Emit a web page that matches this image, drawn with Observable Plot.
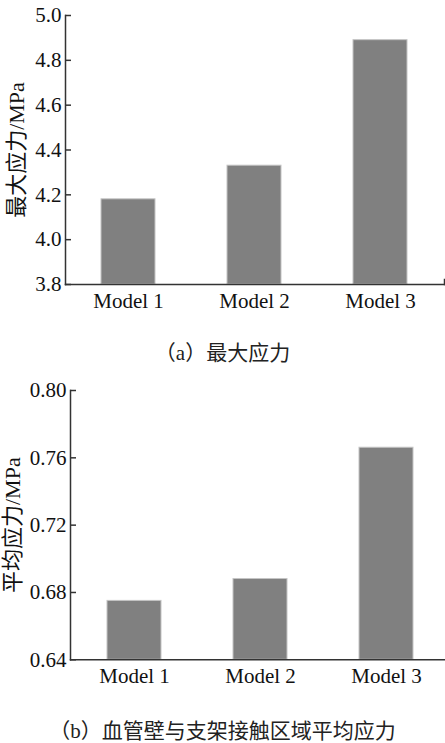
<!DOCTYPE html>
<html>
<head>
<meta charset="utf-8">
<script src="https://cdn.jsdelivr.net/npm/d3@7"></script>
<script src="https://cdn.jsdelivr.net/npm/@observablehq/plot@0.6"></script>
<style>
  html, body { margin: 0; padding: 0; background: #fff; overflow: hidden; }
  .cap { width: 445px; text-align: center; font-family: "Liberation Serif", "Noto Sans CJK SC", serif; font-size: 21px; color: #222; }
  svg { display: block; }
</style>
</head>
<body>
<div id="a"></div>
<div class="cap" style="height:40px; line-height:40px;">（a）最大应力</div>
<div id="b"></div>
<div class="cap" style="height:30px; line-height:30px;">（b）血管壁与支架接触区域平均应力</div>
<script>
const models = ["Model 1", "Model 2", "Model 3"];
const maxStress = [4.18, 4.33, 4.89];
const avgStress = [0.675, 0.688, 0.766];
const yDomainA = [3.8, 5.0];
const yTicksA = [3.8, 4.0, 4.2, 4.4, 4.6, 4.8, 5.0];
const yDomainB = [0.64, 0.80];
const yTicksB = [0.64, 0.68, 0.72, 0.76, 0.80];
const yLabelA = "最大应力/MPa";
const yLabelB = "平均应力/MPa";

const dataA = models.map((m, i) => ({model: m, value: maxStress[i]}));
const dataB = models.map((m, i) => ({model: m, value: avgStress[i]}));

const font = "Liberation Serif, Noto Sans CJK SC, serif";
const axisColor = "#333";
const barFill = "#808080";
const barStroke = "#c4c4c4";

function chart({data, yDomain, yTicks, fmt, label, width, height, mL, mR, mT, mB, xRange, labelDx, rightTick}) {
  const frameH = height - mT - mB;
  const marks = [
    Plot.barY(data, {x: "model", y1: yDomain[0], y2: "value", fill: barFill, stroke: barStroke, strokeWidth: 1}),
    Plot.axisX({tickSize: 0, tickPadding: 8.5, fontSize: 21, fontFamily: font, color: "#111"}),
    Plot.axisY({ticks: yTicks, tickFormat: fmt, tickSize: 0, tickPadding: 4, fontSize: 21, fontFamily: font, fontVariant: "normal", label: null, color: "#111"}),
    Plot.tickY(yTicks, {y: d => d, insetRight: (width - mR - mL) - 6, stroke: axisColor, strokeWidth: 1.5}),
    Plot.frame({anchor: "left", stroke: axisColor, strokeWidth: 1.5}),
    Plot.frame({anchor: "bottom", stroke: axisColor, strokeWidth: 1.5}),
    Plot.text([label], {frameAnchor: "left", textAnchor: "middle", lineAnchor: "middle", rotate: -90, dx: labelDx, fontSize: 22, fontFamily: font, fill: "#111", text: d => d})
  ];
  if (rightTick) marks.push(Plot.frame({anchor: "right", insetTop: frameH - 5, stroke: axisColor, strokeWidth: 1.5}));
  return Plot.plot({
    width, height,
    marginLeft: mL, marginRight: mR, marginTop: mT, marginBottom: mB,
    style: {fontFamily: font, fontSize: "21px", background: "white", overflow: "visible"},
    x: {domain: models, paddingInner: 0.569, paddingOuter: 0.285, label: null, ...(xRange ? {range: xRange} : {})},
    y: {domain: yDomain, label: null},
    marks
  });
}

document.getElementById("a").append(chart({
  data: dataA, yDomain: yDomainA, yTicks: yTicksA, fmt: d => d.toFixed(1), label: yLabelA,
  width: 445, height: 333, mL: 65, mR: 1, mT: 15, mB: 49, labelDx: -49, rightTick: true
}));
document.getElementById("b").append(chart({
  data: dataB, yDomain: yDomainB, yTicks: yTicksB, fmt: d => d.toFixed(2), label: yLabelB,
  width: 445, height: 343, mL: 70, mR: 0, mT: 17, mB: 56.7, xRange: [70, 449.5], labelDx: -58, rightTick: false
}));
</script>
</body>
</html>
